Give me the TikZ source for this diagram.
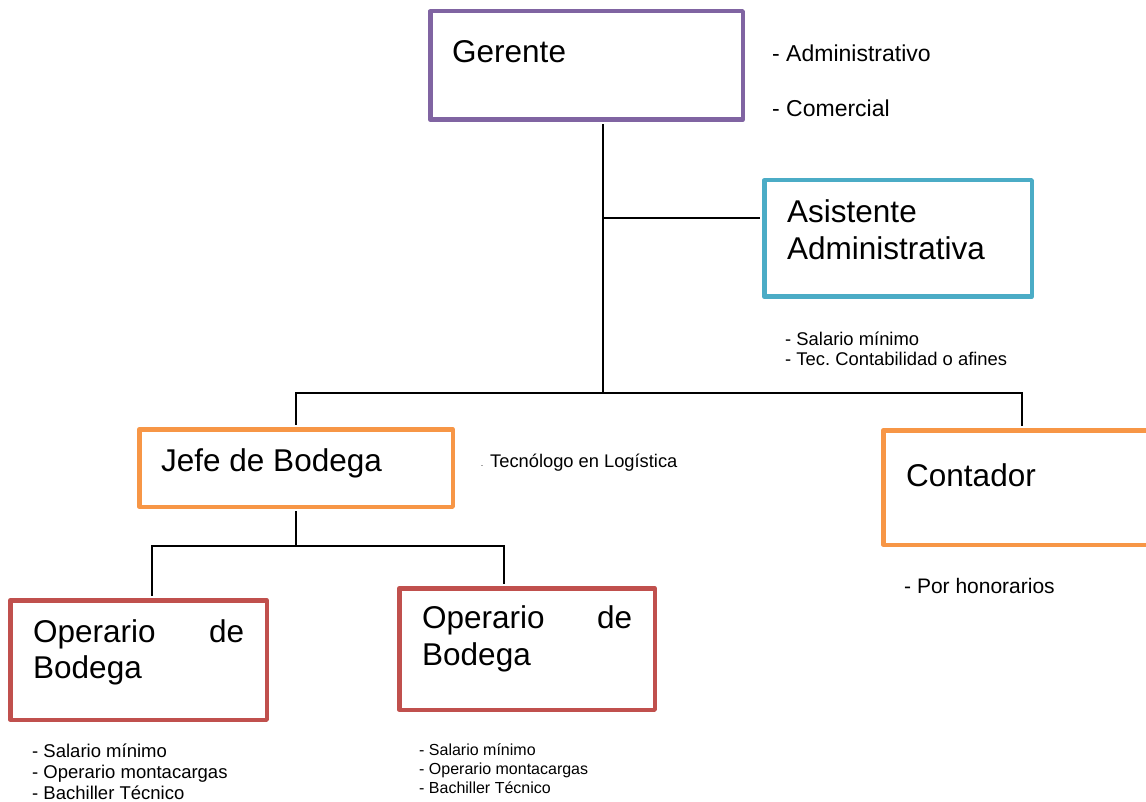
\documentclass[tikz,border=0pt]{standalone}
\usepackage{fontspec}
\setmainfont{Liberation Sans}
\usepackage{tikz}
\definecolor{morado}{HTML}{8064A2}
\definecolor{celeste}{HTML}{4BACC6}
\definecolor{naranja}{HTML}{F79646}
\definecolor{rojo}{HTML}{C0504D}
\newcommand{\lineas}[1]{\begin{tabular}[t]{@{}l@{}}#1\end{tabular}}
\frenchspacing

\begin{document}
\begin{tikzpicture}[x=1pt,y=-1pt,
    cargo/.style={draw,rectangle,line width=4.5pt,line join=round,inner sep=0pt},
    titulo/.style={anchor=base west,inner sep=0pt,font=\fontsize{31.5}{37}\selectfont},
    nota/.style={anchor=base west,inner sep=0pt},
    linea/.style={line width=1.6pt}]
  \useasboundingbox (0,0) rectangle (1146,802);
  % cajas
  \node[cargo,morado,minimum width=312.5pt,minimum height=108.5pt] (Gerente) at (586.5,65.5) {};
  \node[cargo,celeste,minimum width=267.5pt,minimum height=116.5pt] (Asistente) at (898,238.5) {};
  \node[cargo,naranja,minimum width=313.5pt,minimum height=77.5pt] (Jefe) at (296,468) {};
  \node[cargo,naranja,minimum width=277.5pt,minimum height=114.5pt] (Contador) at (1022,487.5) {};
  \node[cargo,rojo,minimum width=256.5pt,minimum height=119.5pt] (OperarioA) at (138.5,660) {};
  \node[cargo,rojo,minimum width=255.5pt,minimum height=121.5pt] (OperarioB) at (527,649) {};
  % textos
  \node[titulo] (tGerente) at (452,63) {Gerente};
  \node[titulo] (tAsistente) at (787,223) {\lineas{Asistente\\Administrativa}};
  \node[titulo] (tJefe) at (161,471) {Jefe de Bodega};
  \node[titulo] (tContador) at (906,486) {Contador};
  \node[titulo,font=\fontsize{31.5}{36}\selectfont] (tOperarioA) at (33,642) {\parbox[t]{211pt}{Operario\hfill de\\Bodega}};
  \node[titulo] (tOperarioB) at (422,628) {\parbox[t]{210pt}{Operario\hfill de\\Bodega}};
  \node[nota,font=\fontsize{23}{55}\selectfont] (nGerente) at (772,62) {\lineas{- Administrativo\\- Comercial}};
  \node[nota,font=\fontsize{18.4}{20}\selectfont] (nAsistente) at (785,345) {\lineas{- Salario mínimo\\- Tec. Contabilidad o afines}};
  \node[nota,font=\fontsize{18.3}{21}\selectfont] (nJefe) at (481,467) {\makebox[9pt][l]{\fontsize{6}{6}\selectfont -}Tecnólogo en Logística};
  \node[nota,font=\fontsize{21}{24}\selectfont] (nContador) at (904,593) {- Por honorarios};
  \node[nota,font=\fontsize{18.5}{21}\selectfont] (nOperarioA) at (32,757) {\lineas{- Salario mínimo\\- Operario montacargas\\- Bachiller Técnico}};
  \node[nota,font=\fontsize{16}{19}\selectfont] (nOperarioB) at (419,755) {\lineas{- Salario mínimo\\- Operario montacargas\\- Bachiller Técnico}};
  % lineas
  \coordinate (nivel1) at (603,393);
  \coordinate (ramal) at (603,218);
  \coordinate (nivel2) at (296,546);
  \draw[linea,shorten <=2.25pt] ([xshift=16.5pt]Gerente.south) -- (nivel1);
  \draw[linea,shorten >=2.25pt] (ramal) -- (ramal -| Asistente.west);
  \draw[linea,shorten <=2.25pt,shorten >=2.25pt] (Jefe.north) |- (nivel1) -| (Contador.north);
  \draw[linea,shorten <=2.25pt] (Jefe.south) -- (nivel2);
  \draw[linea,shorten <=2.25pt,shorten >=2.25pt] ([xshift=13.5pt]OperarioA.north) |- (nivel2) -| ([xshift=-23pt]OperarioB.north);
\end{tikzpicture}
\end{document}
